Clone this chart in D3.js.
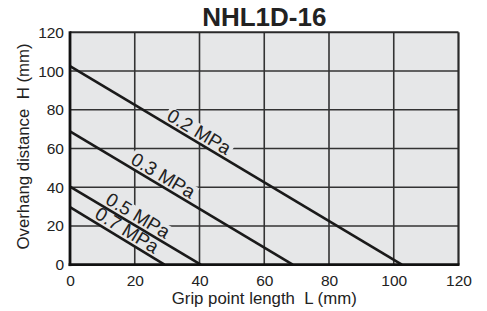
<!DOCTYPE html>
<html>
<head>
<meta charset="utf-8">
<script src="https://cdn.jsdelivr.net/npm/d3@7"></script>
<style>
  body { margin: 0; background: #fff; }
  svg { display: block; font-family: "Liberation Sans", Arial, sans-serif; }
  .tick text { fill: #222; }
</style>
</head>
<body>
<div id="chart"></div>
<script>
var chartTitle = 'NHL1D-16';
var xTicks = [0, 20, 40, 60, 80, 100, 120];
var yTicks = [0, 20, 40, 60, 80, 100, 120];

// each pressure line runs from (0, start) to (end, 0)
var pressures = ['0.2 MPa', '0.3 MPa', '0.5 MPa', '0.7 MPa'];
var lineStarts = [102.5, 68.8, 40.3, 29.7];
var lineEnds = [102.5, 68.8, 40.4, 29.2];
// where along each line its label sits (grip length, mm)
var labelAt = [38.3, 27.2, 19.4, 16.0];

var width = 487, height = 311;
var margin = {top: 32.3, right: 28.5, bottom: 46.3, left: 70};
var plotW = width - margin.left - margin.right;
var plotH = height - margin.top - margin.bottom;

var svg = d3.select('#chart')
    .append('svg')
    .attr('width', width)
    .attr('height', height);

var x = d3.scaleLinear().domain([0, 120]).range([0, plotW]);
var y = d3.scaleLinear().domain([0, 120]).range([plotH, 0]);

svg.append('text')
    .attr('x', margin.left + plotW / 2)
    .attr('y', 26)
    .attr('text-anchor', 'middle')
    .style('font-size', '26px')
    .style('font-weight', 'bold')
    .style('fill', '#222')
    .text(chartTitle);

var g = svg.append('g')
    .attr('transform', 'translate(' + margin.left + ',' + margin.top + ')');

g.append('rect')
    .attr('width', plotW)
    .attr('height', plotH)
    .attr('fill', '#e6e7e8');

// grid
g.append('g')
    .selectAll('line')
    .data(xTicks.slice(1, -1))
    .enter()
    .append('line')
    .attr('x1', function(d) { return x(d); })
    .attr('x2', function(d) { return x(d); })
    .attr('y1', 0)
    .attr('y2', plotH)
    .attr('stroke', '#333')
    .attr('stroke-width', 1.6);

g.append('g')
    .selectAll('line')
    .data(yTicks.slice(1, -1))
    .enter()
    .append('line')
    .attr('x1', 0)
    .attr('x2', plotW)
    .attr('y1', function(d) { return y(d); })
    .attr('y2', function(d) { return y(d); })
    .attr('stroke', '#333')
    .attr('stroke-width', 1.6);

var lines = pressures.map(function(p, i) {
    return {name: p, pts: [[0, lineStarts[i]], [lineEnds[i], 0]], at: labelAt[i]};
});

function labelTransform(d) {
    var x0 = x(d.pts[0][0]), y0 = y(d.pts[0][1]);
    var x1 = x(d.pts[1][0]), y1 = y(d.pts[1][1]);
    var ang = Math.atan2(y1 - y0, x1 - x0);
    var t = (x(d.at) - x0) / (x1 - x0);
    var px = x0 + t * (x1 - x0), py = y0 + t * (y1 - y0);
    return 'translate(' + px + ',' + py + ') rotate(' + (ang * 180 / Math.PI) + ')';
}

var labels = g.append('g')
    .selectAll('g')
    .data(lines)
    .enter()
    .append('g')
    .attr('transform', labelTransform);

labels.append('text')
    .attr('y', -3.5)
    .attr('text-anchor', 'middle')
    .style('font-size', '19px')
    .style('fill', '#222')
    .text(function(d) { return d.name; })
    .each(function() {
        var b = this.getBBox();
        d3.select(this.parentNode).insert('rect', 'text')
            .attr('x', b.x - 2)
            .attr('y', b.y + 3)
            .attr('width', b.width + 4)
            .attr('height', b.height - 3)
            .attr('fill', '#e6e7e8');
    });

var line = d3.line()
    .x(function(d) { return x(d[0]); })
    .y(function(d) { return y(d[1]); });

g.append('g')
    .selectAll('path')
    .data(lines)
    .enter()
    .append('path')
    .attr('d', function(d) { return line(d.pts); })
    .attr('fill', 'none')
    .attr('stroke', '#1a1a1a')
    .attr('stroke-width', 2.6);

// frame
g.append('line').attr('x1', 0).attr('x2', plotW).attr('y1', 0).attr('y2', 0)
    .attr('stroke', '#2a2a2a').attr('stroke-width', 2);
g.append('line').attr('x1', plotW).attr('x2', plotW).attr('y1', 0).attr('y2', plotH)
    .attr('stroke', '#2a2a2a').attr('stroke-width', 2.2);
g.append('line').attr('x1', 0).attr('x2', 0).attr('y1', -1).attr('y2', plotH + 1.4)
    .attr('stroke', '#111').attr('stroke-width', 2.8);
g.append('line').attr('x1', -1.4).attr('x2', plotW + 1).attr('y1', plotH).attr('y2', plotH)
    .attr('stroke', '#111').attr('stroke-width', 2.8);

// axes (labels only)
var xAxis = d3.axisBottom(x).tickValues(xTicks).tickSize(0).tickPadding(10);
var yAxis = d3.axisLeft(y).tickValues(yTicks).tickSize(0).tickPadding(6);

g.append('g')
    .attr('transform', 'translate(0,' + plotH + ')')
    .call(xAxis)
    .call(function(a) { a.select('.domain').remove(); })
    .selectAll('text')
    .style('font-size', '15.5px')
    .style('font-family', '"Liberation Sans", Arial, sans-serif');

g.append('g')
    .call(yAxis)
    .call(function(a) { a.select('.domain').remove(); })
    .selectAll('text')
    .style('font-size', '15.5px')
    .style('font-family', '"Liberation Sans", Arial, sans-serif');

svg.append('text')
    .attr('x', margin.left + plotW / 2)
    .attr('y', 304)
    .attr('text-anchor', 'middle')
    .style('font-size', '16.8px')
    .style('fill', '#222')
    .style('white-space', 'pre')
    .text('Grip point length  L (mm)');

svg.append('text')
    .attr('transform', 'translate(28.5,' + (margin.top + plotH / 2 - 2) + ') rotate(-90)')
    .attr('text-anchor', 'middle')
    .style('font-size', '16.8px')
    .style('fill', '#222')
    .style('white-space', 'pre')
    .text('Overhang distance  H (mm)');
</script>
</body>
</html>
